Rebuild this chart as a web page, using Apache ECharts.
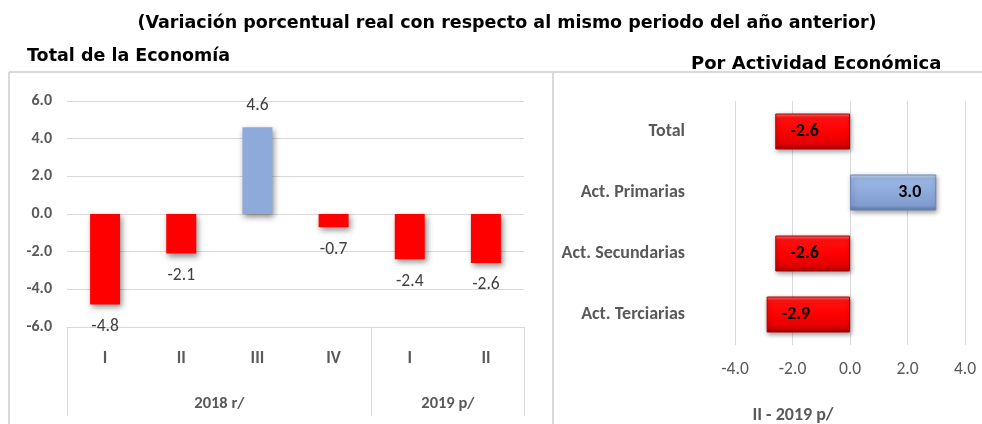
<!DOCTYPE html>
<html><head><meta charset="utf-8">
<script src="https://cdn.jsdelivr.net/npm/echarts@6/dist/echarts.min.js"></script>
<style>html,body{margin:0;padding:0;background:#fff}#c{width:982px;height:424px}</style>
</head><body><div id="c"></div>
<script>
var quarters = ['I','II','III','IV','I','II'];
var totalValues = [-4.8, -2.1, 4.6, -0.7, -2.4, -2.6];
var groupLabels = {2: '2018 r/', 5: '2019 p/'};
var leftTicks = [-6, -4, -2, 0, 2, 4, 6];
var sectors = ['Total', 'Act. Primarias', 'Act. Secundarias', 'Act. Terciarias'];
var sectorValues = [-2.6, 3.0, -2.6, -2.9];
var rightTicks = [-4, -2, 0, 2, 4];

var gray = '#595959', grid = '#d9d9d9';
var font = '"DejaVu Sans", Arial, sans-serif';
var bodyFont = 'Calibri, Carlito, "Open Sans", sans-serif';

var redGrad = new echarts.graphic.LinearGradient(0,0,0,1,[
  {offset:0,color:'#ff7070'},{offset:0.12,color:'#ff1010'},{offset:0.5,color:'#ff0000'},{offset:0.85,color:'#e00000'},{offset:1,color:'#a00000'}]);
var blueGrad = new echarts.graphic.LinearGradient(0,0,0,1,[
  {offset:0,color:'#c6d6ee'},{offset:0.12,color:'#9bb7e4'},{offset:0.5,color:'#8eaadb'},{offset:0.85,color:'#819dd0'},{offset:1,color:'#5f77a6'}]);

var chart = echarts.init(document.getElementById('c'), null, {renderer:'canvas'});
chart.setOption({
  animation:false,
  title:[
    {text:'(Variación porcentual real con respecto al mismo periodo del año anterior)', left:502, top:9, textAlign:'center',
     textStyle:{fontFamily:font, fontWeight:'bold', fontSize:17.5, color:'#000'}},
    {text:'Total de la Economía', left:22, top:42, textStyle:{fontFamily:font, fontWeight:'bold', fontSize:17.5, color:'#000'}},
    {text:'Por Actividad Económica', left:686, top:50, textStyle:{fontFamily:font, fontWeight:'bold', fontSize:18, color:'#000'}},
    {text:'II - 2019 p/', left:788, top:401, textAlign:'center', textStyle:{fontFamily:bodyFont, fontWeight:'bold', fontSize:18, color:gray}}
  ],
  graphic:[
    {type:'line', shape:{x1:9,y1:72,x2:982,y2:72}, style:{stroke:grid,lineWidth:2}},
    {type:'line', shape:{x1:9,y1:72,x2:9,y2:424}, style:{stroke:grid,lineWidth:2}},
    {type:'line', shape:{x1:553,y1:72,x2:553,y2:424}, style:{stroke:grid,lineWidth:2}}
  ],
  grid:[
    {left:67, top:101, width:457, height:226},
    {left:735, top:101, width:230, height:244}
  ],
  xAxis:[
    {type:'category', gridIndex:0, data:quarters, position:'bottom',
     axisLine:{onZero:false, lineStyle:{color:grid}},
     axisTick:{show:true, length:89, lineStyle:{color:grid}, interval:function(i){return i===0||i===4;}},
     axisLabel:{color:gray, fontFamily:bodyFont, fontWeight:'bold', fontSize:17, margin:23}},
    {type:'value', gridIndex:0, min:0, max:6, interval:1, position:'bottom',
     axisLine:{show:false}, axisTick:{show:false}, splitLine:{show:false},
     axisLabel:{color:gray, fontFamily:bodyFont, fontWeight:'bold', fontSize:16.5, margin:68,
       formatter:function(v){return groupLabels[v]||'';}}},
    {type:'value', gridIndex:1, min:-4, max:4, interval:2,
     axisLine:{show:false}, axisTick:{show:false},
     splitLine:{lineStyle:{color:grid}},
     axisLabel:{color:gray, fontFamily:bodyFont, fontSize:17.5, margin:16,
       formatter:function(v){return rightTicks.indexOf(v)>=0 ? v.toFixed(1) : '';}}}
  ],
  yAxis:[
    {type:'value', gridIndex:0, min:leftTicks[0], max:leftTicks[leftTicks.length-1], interval:2,
     axisLine:{show:false}, axisTick:{show:false},
     splitLine:{lineStyle:{color:grid}},
     axisLabel:{color:gray, fontFamily:bodyFont, fontWeight:'bold', fontSize:16, margin:15,
       formatter:function(v){return v.toFixed(1);}}},
    {type:'category', gridIndex:1, data:sectors, inverse:true,
     axisLine:{show:false}, axisTick:{show:false},
     axisLabel:{color:gray, fontFamily:bodyFont, fontWeight:'bold', fontSize:18, margin:50}}
  ],
  series:[
    {type:'bar', xAxisIndex:0, yAxisIndex:0, barWidth:30,
     data:totalValues.map(function(v){return {value:v,
       itemStyle:{color: v>=0 ? '#8eaadb' : '#ff0000'},
       label:{position: v>=0 ? 'top' : 'bottom'}};}),
     itemStyle:{shadowColor:'rgba(0,0,0,0.45)', shadowBlur:6, shadowOffsetX:2, shadowOffsetY:3},
     label:{show:true, distance:13, color:'#404040', fontFamily:bodyFont, fontSize:17.5,
       formatter:function(p){return p.value.toFixed(1);}}},
    {type:'bar', xAxisIndex:2, yAxisIndex:1, barWidth:36,
     data:sectorValues.map(function(v){return {value:v,
       itemStyle:{color: v>=0 ? blueGrad : redGrad, borderColor: v>=0 ? '#6d86b5' : '#b00000'},
       label:{position: v>=0 ? 'insideRight' : 'insideLeft'}};}),
     itemStyle:{borderWidth:1, shadowColor:'rgba(0,0,0,0.4)', shadowBlur:5, shadowOffsetX:1, shadowOffsetY:2},
     label:{show:true, distance:15, color:'#000', fontFamily:bodyFont, fontWeight:'bold', fontSize:18,
       formatter:function(p){return p.value.toFixed(1);}}}
  ]
});
</script></body></html>
